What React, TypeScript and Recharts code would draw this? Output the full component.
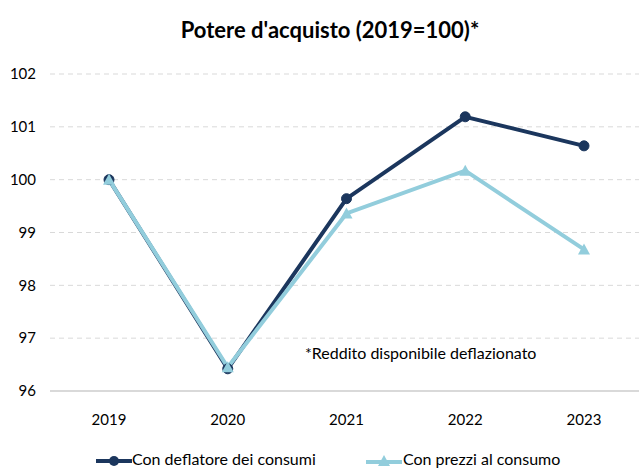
import { CartesianGrid, Line, LineChart, XAxis, YAxis } from "recharts";

const years = ["2019", "2020", "2021", "2022", "2023"];
const deflatoreConsumi = [100, 96.42, 99.64, 101.19, 100.64];
const prezziConsumo = [100, 96.45, 99.36, 100.17, 98.68];
const yTicks = [96, 97, 98, 99, 100, 101, 102];

const NAVY = "#1b365d";
const LIGHT = "#92cddc";
const FONT = "Lato, 'Open Sans', sans-serif";

const data = years.map((year, i) => ({
  year,
  deflatore: deflatoreConsumi[i],
  prezzi: prezziConsumo[i],
}));

const Triangle = (props: any) => {
  const { cx, cy } = props;
  if (cx == null || cy == null) return null;
  return (
    <path
      d={`M${cx},${cy - 6} L${cx + 6},${cy + 5} L${cx - 6},${cy + 5} Z`}
      fill={LIGHT}
    />
  );
};

export default function App() {
  return (
    <div
      style={{
        position: "absolute",
        left: 0,
        top: 0,
        width: 639,
        height: 470,
        overflow: "hidden",
        background: "#fff",
        fontFamily: FONT,
      }}
    >
      <div
        style={{
          position: "absolute",
          top: 16,
          left: 0,
          width: 660,
          textAlign: "center",
          fontWeight: 700,
          fontSize: 22,
          color: "#000",
        }}
      >
        Potere d'acquisto (2019=100)*
      </div>

      <LineChart
        width={645}
        height={470}
        data={data}
        margin={{ top: 74, right: 2, left: 0, bottom: 49 }}
      >
        <CartesianGrid
          vertical={false}
          stroke="#d9d9d9"
          strokeDasharray="5 4"
        />
        <XAxis
          dataKey="year"
          padding={{ left: 59, right: 59 }}
          axisLine={{ stroke: "#d9d9d9", strokeWidth: 2 }}
          tickLine={false}
          tickMargin={17}
          tick={{ fontSize: 15, fill: "#000", fontFamily: FONT }}
        />
        <YAxis
          width={50}
          domain={[96, 102]}
          ticks={yTicks}
          axisLine={false}
          tickLine={false}
          tickMargin={8}
          tick={{ fontSize: 15, fill: "#000", fontFamily: FONT }}
        />
        <Line
          dataKey="deflatore"
          stroke={NAVY}
          strokeWidth={4}
          dot={{ r: 5, fill: NAVY, stroke: NAVY, strokeWidth: 1 }}
          isAnimationActive={false}
        />
        <Line
          dataKey="prezzi"
          stroke={LIGHT}
          strokeWidth={4}
          dot={<Triangle />}
          isAnimationActive={false}
        />
      </LineChart>

      <div
        style={{
          position: "absolute",
          left: 305,
          top: 343,
          fontSize: 16,
          color: "#000",
        }}
      >
        *Reddito disponibile deflazionato
      </div>

      <div
        style={{
          position: "absolute",
          top: 449,
          left: 0,
          width: 639,
          fontSize: 16,
          color: "#000",
        }}
      >
        <svg
          width={40}
          height={14}
          style={{ position: "absolute", left: 94, top: 5 }}
        >
          <line x1={2} y1={7} x2={38} y2={7} stroke={NAVY} strokeWidth={4} />
          <circle cx={20} cy={7} r={5} fill={NAVY} />
        </svg>
        <span style={{ position: "absolute", left: 132, top: 0 }}>
          Con deflatore dei consumi
        </span>
        <svg
          width={40}
          height={14}
          style={{ position: "absolute", left: 364, top: 5 }}
        >
          <line x1={2} y1={8} x2={38} y2={8} stroke={LIGHT} strokeWidth={4} />
          <path d="M20,1 L26,12 L14,12 Z" fill={LIGHT} />
        </svg>
        <span style={{ position: "absolute", left: 403, top: 0 }}>
          Con prezzi al consumo
        </span>
      </div>
    </div>
  );
}
